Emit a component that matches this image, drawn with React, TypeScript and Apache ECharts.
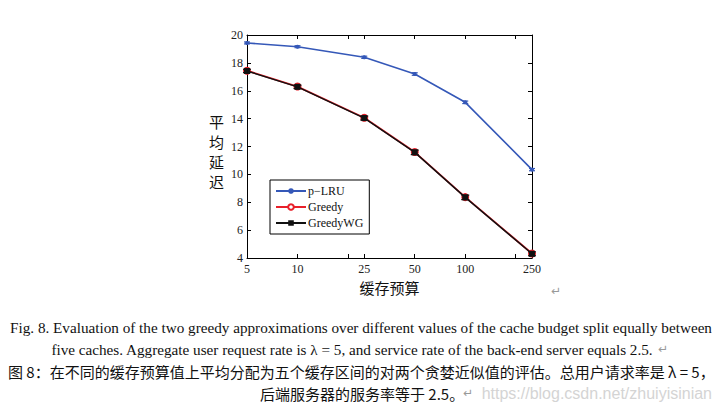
import React, { useEffect, useRef } from "react";
import * as echarts from "echarts";

const budgets = [5, 10, 25, 50, 100, 250];
const tickValues = [5, 10, 20, 25, 50, 100, 200, 250];
const pLru = [19.43, 19.16, 18.4, 17.2, 15.17, 10.34];
const greedy = [17.44, 16.3, 14.06, 11.6, 8.37, 4.32];
const greedyWG = [17.42, 16.28, 14.04, 11.58, 8.35, 4.3];
const pLruErr = [0.07, 0.07, 0.08, 0.09, 0.09, 0.08];
const greedyErr = [0.12, 0.12, 0.14, 0.16, 0.16, 0.14];
const yTicks = { min: 4, max: 20, interval: 2 };

const serif = "'Liberation Serif', 'Times New Roman', serif";
const cjk = "'Noto Sans CJK SC', sans-serif";

export default function App() {
  const ref = useRef<HTMLDivElement>(null);
  useEffect(() => {
    const chart = echarts.init(ref.current!, null, { renderer: "svg" });
    const errSeries = (name: string, vals: number[], errs: number[], color: string, cap: number) => ({
      type: "custom",
      name,
      xAxisIndex: 0,
      yAxisIndex: 0,
      z: 5,
      silent: true,
      data: budgets.map((b, i) => [b, vals[i], errs[i]]),
      renderItem: (_p: any, api: any) => {
        const x = api.value(0);
        const y = api.value(1);
        const e = api.value(2);
        const top = api.coord([x, y + e]);
        const bot = api.coord([x, y - e]);
        const st = { stroke: color, lineWidth: 1.2 };
        return {
          type: "group",
          children: [
            { type: "line", shape: { x1: top[0], y1: top[1], x2: bot[0], y2: bot[1] }, style: st },
            { type: "line", shape: { x1: top[0] - cap, y1: top[1], x2: top[0] + cap, y2: top[1] }, style: st },
            { type: "line", shape: { x1: bot[0] - cap, y1: bot[1], x2: bot[0] + cap, y2: bot[1] }, style: st },
          ],
        };
      },
    });
    const axisLine = { show: true, lineStyle: { color: "#000", width: 1 } };
    const xBase = {
      type: "log",
      min: 5,
      max: 250,
      logBase: 10,
      axisLine,
      splitLine: { show: false },
      minorTick: { show: false },
      axisTick: { show: true, inside: true, length: 4, customValues: tickValues, lineStyle: { color: "#000" } },
    };
    const yBase = {
      type: "value",
      min: yTicks.min,
      max: yTicks.max,
      interval: yTicks.interval,
      axisLine,
      splitLine: { show: false },
      axisTick: { show: true, inside: true, length: 4, lineStyle: { color: "#000" } },
    };
    const captionStyle = { fill: "#111", font: `15.2px ${serif}` };
    chart.setOption({
      animation: false,
      backgroundColor: "#fff",
      grid: { left: 247, right: 189, top: 35, bottom: 154 },
      xAxis: [
        {
          ...xBase,
          position: "bottom",
          name: "缓存预算",
          nameLocation: "middle",
          nameGap: 16,
          nameTextStyle: { fontFamily: cjk, fontSize: 15, color: "#111" },
          axisLabel: {
            customValues: budgets,
            fontFamily: serif,
            fontSize: 12,
            color: "#222",
            margin: 5,
          },
        },
        { ...xBase, position: "top", axisLabel: { show: false } },
      ],
      yAxis: [
        {
          ...yBase,
          position: "left",
          axisLabel: { fontFamily: serif, fontSize: 12, color: "#222", margin: 4 },
        },
        { ...yBase, position: "right", axisLabel: { show: false } },
      ],
      legend: {
        orient: "vertical",
        left: 270,
        top: 180,
        data: ["p-LRU", "Greedy", "GreedyWG"],
        formatter: (n: string) => (n === "p-LRU" ? "p−LRU" : n),
        backgroundColor: "#fff",
        borderColor: "#000",
        borderWidth: 1,
        borderRadius: 0,
        padding: [4, 6, 4, 5],
        itemGap: 2,
        itemWidth: 30,
        itemHeight: 7,
        textStyle: { fontFamily: serif, fontSize: 12, color: "#111", padding: [0, 0, 0, -3], lineHeight: 14 },
      },
      series: [
        {
          type: "line",
          name: "p-LRU",
          data: budgets.map((b, i) => [b, pLru[i]]),
          color: "#3558b8",
          lineStyle: { width: 1.6, color: "#3558b8" },
          symbol: "circle",
          symbolSize: 4,
          itemStyle: { color: "#3558b8" },
          z: 3,
        },
        {
          type: "line",
          name: "Greedy",
          data: budgets.map((b, i) => [b, greedy[i]]),
          color: "#e8202a",
          lineStyle: { width: 1.8, color: "#e8202a" },
          symbol: "emptyCircle",
          symbolSize: 6,
          itemStyle: { color: "#e8202a", borderColor: "#e8202a", borderWidth: 1 },
          z: 2,
        },
        {
          type: "line",
          name: "GreedyWG",
          data: budgets.map((b, i) => [b, greedyWG[i]]),
          color: "#111",
          lineStyle: { width: 1.4, color: "#111" },
          symbol: "rect",
          symbolSize: 6,
          itemStyle: { color: "#111" },
          z: 4,
        },
        errSeries("pLruErr", pLru, pLruErr, "#3558b8", 3),
        errSeries("wgErr", greedyWG, greedyErr, "#111", 4),
      ],
      graphic: [
        {
          type: "text",
          left: 209,
          top: 111,
          style: { text: "平\n均\n延\n迟", font: `15px ${cjk}`, lineHeight: 20, fill: "#111" },
        },
        { type: "text", left: 551, top: 285, style: { text: "↵", font: "12px 'DejaVu Sans'", fill: "#999" } },
        {
          type: "text",
          x: 361,
          y: 327,
          style: {
            text: "Fig. 8. Evaluation of the two greedy approximations over different values of the cache budget split equally between",
            ...captionStyle,
            align: "center",
            verticalAlign: "middle",
          },
        },
        {
          type: "text",
          x: 352,
          y: 349,
          style: {
            text: "five caches. Aggregate user request rate is λ = 5, and service rate of the back-end server equals 2.5.",
            ...captionStyle,
            align: "center",
            verticalAlign: "middle",
          },
        },
        { type: "text", x: 658, y: 349, style: { text: "↵", font: "12px 'DejaVu Sans'", fill: "#999", verticalAlign: "middle" } },
        {
          type: "text",
          x: 8,
          y: 371,
          style: {
            text: "图 8：在不同的缓存预算值上平均分配为五个缓存区间的对两个贪婪近似值的评估。总用户请求率是 λ = 5，",
            fill: "#111",
            font: `15px ${cjk}`,
            align: "left",
            verticalAlign: "middle",
          },
        },
        {
          type: "text",
          x: 260,
          y: 393,
          style: {
            text: "后端服务器的服务率等于 2.5。",
            fill: "#111",
            font: `15px ${cjk}`,
            align: "left",
            verticalAlign: "middle",
          },
        },
        { type: "text", x: 463, y: 393, style: { text: "↵", font: "12px 'DejaVu Sans'", fill: "#999", verticalAlign: "middle" } },
        {
          type: "text",
          x: 712,
          y: 393,
          style: {
            text: "https://blog.csdn.net/zhuiyisinian",
            fill: "#d4d4d4",
            font: "16px 'Liberation Sans', Arial, sans-serif",
            align: "right",
            verticalAlign: "middle",
          },
        },
      ],
    });
    return () => chart.dispose();
  }, []);
  return <div ref={ref} style={{ position: "absolute", left: 0, top: 0, width: 721, height: 412 }} />;
}
